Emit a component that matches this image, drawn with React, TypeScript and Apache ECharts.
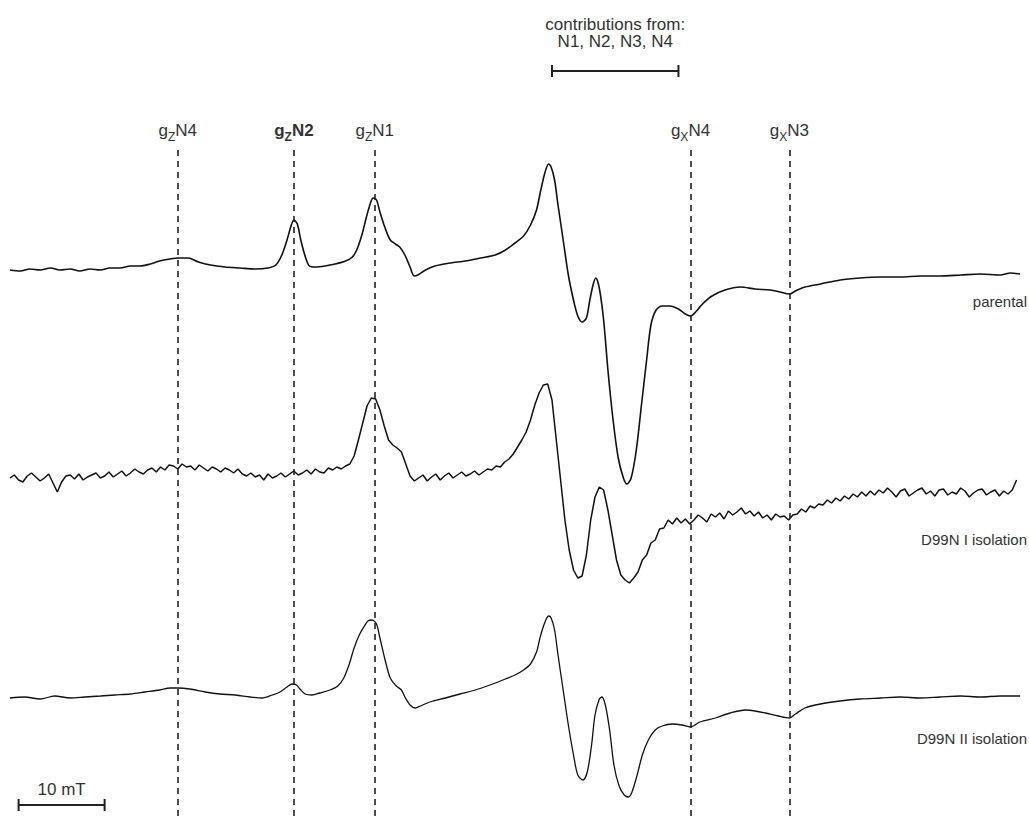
import React, { useEffect, useRef } from "react";
import * as echarts from "echarts";

// ---------- axes (magnetic field in mT, vertical = arbitrary offset units) ----------
const FIELD_MIN = 300;
const FIELD_MAX = 417.4;
const Y_MIN = -821;
const Y_MAX = 0;

// ---------- spectra ----------
const SPECTRUM_NAMES = ["parental", "D99N I isolation", "D99N II isolation"];
const BASELINES = [-270, -478, -698];
const NAME_LEVELS = [-303, -541, -740];

// parental: [field mT, derivative signal]
const PARENTAL: number[][] = [
  [300.0, 0], [301.2, -1], [302.3, 1], [303.5, 0], [304.7, 2], [305.8, 0], [307.0, 1], [308.1, -1], [309.3, 1], [310.5, 0],
  [311.6, 2], [312.8, 2], [314.0, 4], [315.1, 4], [316.3, 6], [317.4, 9], [318.6, 11], [319.5, 12], [320.7, 12], [321.9, 8],
  [323.3, 5], [325.0, 3], [326.7, 2], [328.5, 1], [330.0, 2], [330.9, 5], [331.6, 15], [332.2, 30], [332.7, 45], [333.0, 50],
  [333.4, 46], [333.8, 30], [334.3, 14], [334.8, 4], [335.5, 3], [336.6, 4], [337.8, 6], [339.0, 9], [339.8, 13], [340.3, 20],
  [340.9, 35], [341.4, 52], [341.9, 67], [342.2, 72], [342.6, 70], [343.0, 58], [343.6, 42], [344.2, 30], [344.8, 26], [345.3, 23],
  [345.9, 15], [346.5, 3], [347.0, -6], [347.4, -5], [348.3, 0], [349.4, 4], [351.2, 7], [352.9, 9], [354.7, 12], [356.4, 15],
  [357.6, 20], [358.7, 27], [359.7, 34], [360.5, 45], [361.2, 60], [361.7, 80], [362.2, 98], [362.6, 106], [362.9, 103], [363.3, 90],
  [363.7, 65], [364.3, 30], [364.9, -5], [365.5, -30], [366.0, -46], [366.5, -52], [367.0, -48], [367.4, -30], [367.8, -14], [368.1, -8],
  [368.5, -18], [369.0, -50], [369.5, -100], [370.1, -150], [370.7, -188], [371.3, -208], [371.7, -214], [372.2, -208], [372.8, -180], [373.4, -135],
  [374.0, -90], [374.5, -55], [375.1, -40], [375.8, -36], [376.7, -36], [377.7, -39], [378.5, -44], [379.1, -46], [379.7, -42], [380.5, -34],
  [381.6, -26], [383.1, -20], [384.9, -17], [386.6, -19], [388.4, -20], [389.5, -22], [390.6, -24], [391.3, -21], [392.4, -17], [394.2, -14],
  [396.5, -10], [398.8, -8], [401.2, -7], [403.5, -7], [405.8, -6], [408.1, -6], [410.5, -5], [412.8, -4], [415.1, -5], [416.3, -3],
  [417.4, -4],
];

// D99N I isolation: sampled every 0.5 mT from 300.0 mT
const D99N_I_START = 300.0;
const D99N_I_STEP = 0.5;
const D99N_I_SIGNAL: number[] = [
  0, 3, -2, -4, 2, 5, 1, -3, 0, 4, -5, -14, -4, 2, 3, -1, 4, -2, 1, 3,
  5, 0, 2, 6, 1, 4, 7, 2, 5, 9, 6, 4, 8, 10, 6, 11, 8, 13, 12, 9,
  14, 11, 12, 8, 13, 10, 7, 11, 9, 6, 10, 8, 5, 9, 4,
  2, 5, 1, 3, -2, 4, 0, 2, 5, 1,
  4, 7, 3, 5, 8, 4, 9, 6, 5, 10, 8, 11, 9, 12, 14,
  22, 38, 55, 72, 80, 79, 68, 52, 38, 33, 30, 26, 14, 2, -3,
  0, 3, -3, 1, 4, -2, 2, 5, 0, 3, 6, 2, 4, 7, 3,
  6, 9, 8, 12, 11, 16, 19, 24,
  31, 38, 46, 58, 73, 85, 93,
  94, 78, 38, -2, -42, -72, -92, -100, -98, -77,
  -42, -19, -9, -12, -32, -57, -82, -97, -102, -105,
  -100, -94, -82, -77, -65, -62, -51, -50, -42, -46,
  -40, -45, -41, -46,
  -42, -37, -40, -44, -36, -39, -35, -41, -33, -37, -34, -30, -36, -33, -38, -34, -40, -37, -42, -36, -39, -38,
  -42, -37, -36, -31, -34, -28, -30, -26, -27, -22, -25, -20, -23, -18, -21, -16, -19, -14, -18, -13,
  -17, -12, -15, -10, -14, -19, -13, -11, -18, -15, -12, -10, -16, -13, -18, -12, -11, -17, -14, -16,
  -10, -13, -19, -15, -12, -11, -17, -14, -12, -18, -13, -16, -12, -2,
];

// D99N II isolation: [field mT, derivative signal]
const D99N_II: number[][] = [
  [300.0, 0], [301.7, 1], [303.5, -1], [305.2, 2], [307.0, 0], [308.7, 1], [310.5, 2], [312.2, 3], [314.0, 4], [315.7, 6],
  [317.4, 8], [318.6, 10], [319.5, 10], [320.9, 9], [322.7, 6], [324.4, 4], [326.2, 3], [327.9, 1], [329.3, 0], [330.5, 3],
  [331.4, 6], [332.2, 11], [332.8, 14], [333.3, 13], [333.7, 9], [334.3, 4], [335.1, 3], [336.0, 5], [337.2, 8], [338.1, 12],
  [338.8, 20], [339.4, 33], [340.0, 50], [340.6, 63], [341.2, 72], [341.6, 77], [342.1, 78], [342.6, 74], [343.0, 60], [343.6, 38],
  [344.2, 20], [344.9, 12], [345.5, 8], [345.9, 1], [346.5, -7], [347.1, -10], [347.7, -8], [348.8, -4], [350.6, 0], [352.3, 4],
  [354.1, 8], [355.8, 13], [357.6, 19], [358.7, 23], [359.7, 28], [360.5, 34], [361.2, 46], [361.6, 60], [362.1, 74], [362.6, 82],
  [362.9, 80], [363.3, 68], [363.7, 43], [364.3, 8], [364.9, -27], [365.5, -57], [366.0, -77], [366.6, -82], [367.1, -74], [367.6, -47],
  [368.0, -17], [368.5, -1], [368.8, 1], [369.2, -7], [369.7, -32], [370.2, -67], [370.8, -88], [371.4, -97], [371.9, -99], [372.3, -94],
  [372.9, -77], [373.5, -57], [374.2, -42], [375.0, -32], [375.8, -28], [377.0, -26], [378.1, -27], [379.1, -29], [380.2, -24], [382.0, -20],
  [383.7, -15], [385.5, -12], [386.6, -13], [387.8, -15], [389.3, -18], [390.6, -20], [391.3, -16], [392.4, -10], [394.2, -6], [396.5, -3],
  [398.8, -1], [401.2, 0], [403.5, 1], [405.8, 0], [408.1, 1], [410.5, 2], [412.8, 1], [415.1, 2], [417.4, 2],
];

// ---------- g-value markers ----------
const MARKER_SYMBOL = ["g", "g", "g", "g", "g"];
const MARKER_SUB = ["Z", "Z", "Z", "X", "X"];
const MARKER_CLUSTER = ["N4", "N2", "N1", "N4", "N3"];
const MARKER_BOLD = [false, true, false, false, false];
const MARKER_FIELDS = [319.5, 333.0, 342.4, 379.1, 390.6];
const MARKER_TOP = -150;

// ---------- bars ----------
const CONTRIB_TITLE = ["contributions from:", "N1, N2, N3, N4"];
const CONTRIB_RANGE = [363.0, 377.7];
const CONTRIB_LEVEL = -71;
const SCALE_BAR_TEXT = "10 mT";
const SCALE_BAR_RANGE = [301, 311];
const SCALE_BAR_LEVEL = -805;

const FONT = "'Liberation Sans', Arial, sans-serif";
const TEXT_COLOR = "#333";
const LINE_COLOR = "#111";

function buildOption(): any {
  const parentalData = PARENTAL.map(([f, s]) => [f, BASELINES[0] + s]);
  const d1Data = D99N_I_SIGNAL.map((s, i) => [D99N_I_START + i * D99N_I_STEP, BASELINES[1] + s]);
  const d2Data = D99N_II.map(([f, s]) => [f, BASELINES[2] + s]);

  const markData = MARKER_FIELDS.map((f, i) => {
    const b = MARKER_BOLD[i] ? "b" : "";
    return [
      {
        coord: [f, MARKER_TOP],
        label: {
          show: true,
          position: "start",
          distance: 8,
          formatter: `{m${b}|${MARKER_SYMBOL[i]}}{s${b}|${MARKER_SUB[i]}}{m${b}|${MARKER_CLUSTER[i]}}`,
        },
      },
      { coord: [f, Y_MIN] },
    ];
  });

  const barRender = (params: any, api: any) => {
    const lo = api.value(0);
    const hi = api.value(1);
    const lvl = api.value(2);
    const p0 = api.coord([lo, lvl]);
    const p1 = api.coord([hi, lvl]);
    const cap = 6;
    const st = { stroke: "#222", lineWidth: 2 };
    const children: any[] = [
      { type: "line", shape: { x1: p0[0], y1: p0[1], x2: p1[0], y2: p1[1] }, style: st },
      { type: "line", shape: { x1: p0[0], y1: p0[1] - cap, x2: p0[0], y2: p0[1] + cap }, style: st },
      { type: "line", shape: { x1: p1[0], y1: p1[1] - cap, x2: p1[0], y2: p1[1] + cap }, style: st },
    ];
    const cx = (p0[0] + p1[0]) / 2;
    if (params.dataIndex === 0) {
      children.push({
        type: "text",
        x: cx,
        y: p0[1] - 47,
        style: { text: CONTRIB_TITLE[0], fill: TEXT_COLOR, fontSize: 17, fontFamily: FONT, align: "center", verticalAlign: "middle" },
      });
      children.push({
        type: "text",
        x: cx,
        y: p0[1] - 30,
        style: { text: CONTRIB_TITLE[1], fill: TEXT_COLOR, fontSize: 17, fontFamily: FONT, align: "center", verticalAlign: "middle" },
      });
    } else {
      children.push({
        type: "text",
        x: cx,
        y: p0[1] - 16,
        style: { text: SCALE_BAR_TEXT, fill: TEXT_COLOR, fontSize: 17, fontFamily: FONT, align: "center", verticalAlign: "middle" },
      });
    }
    return { type: "group", children };
  };

  const lineBase = {
    type: "line",
    showSymbol: false,
    symbol: "none",
    silent: true,
    animation: false,
  };

  return {
    animation: false,
    backgroundColor: "#ffffff",
    grid: { left: 10, right: 9, top: 0, bottom: 0, containLabel: false },
    xAxis: { type: "value", min: FIELD_MIN, max: FIELD_MAX, show: false },
    yAxis: { type: "value", min: Y_MIN, max: Y_MAX, show: false },
    textStyle: { fontFamily: FONT },
    graphic: SPECTRUM_NAMES.map((n, i) => ({
      type: "text",
      right: 2,
      top: -NAME_LEVELS[i] - 9,
      style: { text: n, fill: TEXT_COLOR, fontSize: 15, fontFamily: FONT },
    })),
    series: [
      {
        ...lineBase,
        name: SPECTRUM_NAMES[0],
        data: parentalData,
        smooth: 0.3,
        lineStyle: { color: LINE_COLOR, width: 1.6 },
        markLine: {
          silent: true,
          symbol: ["none", "none"],
          animation: false,
          lineStyle: { color: "#222", width: 1.6, type: [6, 5] },
          label: {
            color: TEXT_COLOR,
            fontFamily: FONT,
            rich: {
              m: { fontSize: 17, lineHeight: 20, verticalAlign: "top", color: TEXT_COLOR, fontFamily: FONT },
              s: { fontSize: 12, lineHeight: 12, padding: [9, 0, 0, 0], verticalAlign: "top", color: TEXT_COLOR, fontFamily: FONT },
              mb: { fontSize: 17, lineHeight: 20, verticalAlign: "top", fontWeight: "bold", color: TEXT_COLOR, fontFamily: FONT },
              sb: { fontSize: 12, lineHeight: 12, padding: [9, 0, 0, 0], verticalAlign: "top", fontWeight: "bold", color: TEXT_COLOR, fontFamily: FONT },
            },
          },
          data: markData,
        },
      },
      {
        ...lineBase,
        name: SPECTRUM_NAMES[1],
        data: d1Data,
        smooth: false,
        lineStyle: { color: LINE_COLOR, width: 1.5 },
      },
      {
        ...lineBase,
        name: SPECTRUM_NAMES[2],
        data: d2Data,
        smooth: 0.3,
        lineStyle: { color: LINE_COLOR, width: 1.3 },
      },
      {
        type: "custom",
        silent: true,
        animation: false,
        renderItem: barRender,
        data: [
          [CONTRIB_RANGE[0], CONTRIB_RANGE[1], CONTRIB_LEVEL],
          [SCALE_BAR_RANGE[0], SCALE_BAR_RANGE[1], SCALE_BAR_LEVEL],
        ],
      },
    ],
  };
}

export default function App() {
  const ref = useRef<HTMLDivElement>(null);
  useEffect(() => {
    if (!ref.current) return;
    const chart = echarts.init(ref.current, undefined, { renderer: "svg" });
    chart.setOption(buildOption());
    return () => chart.dispose();
  }, []);
  return (
    <div
      ref={ref}
      style={{ position: "absolute", left: 0, top: 0, width: 1029, height: 821, background: "#fff" }}
    />
  );
}
